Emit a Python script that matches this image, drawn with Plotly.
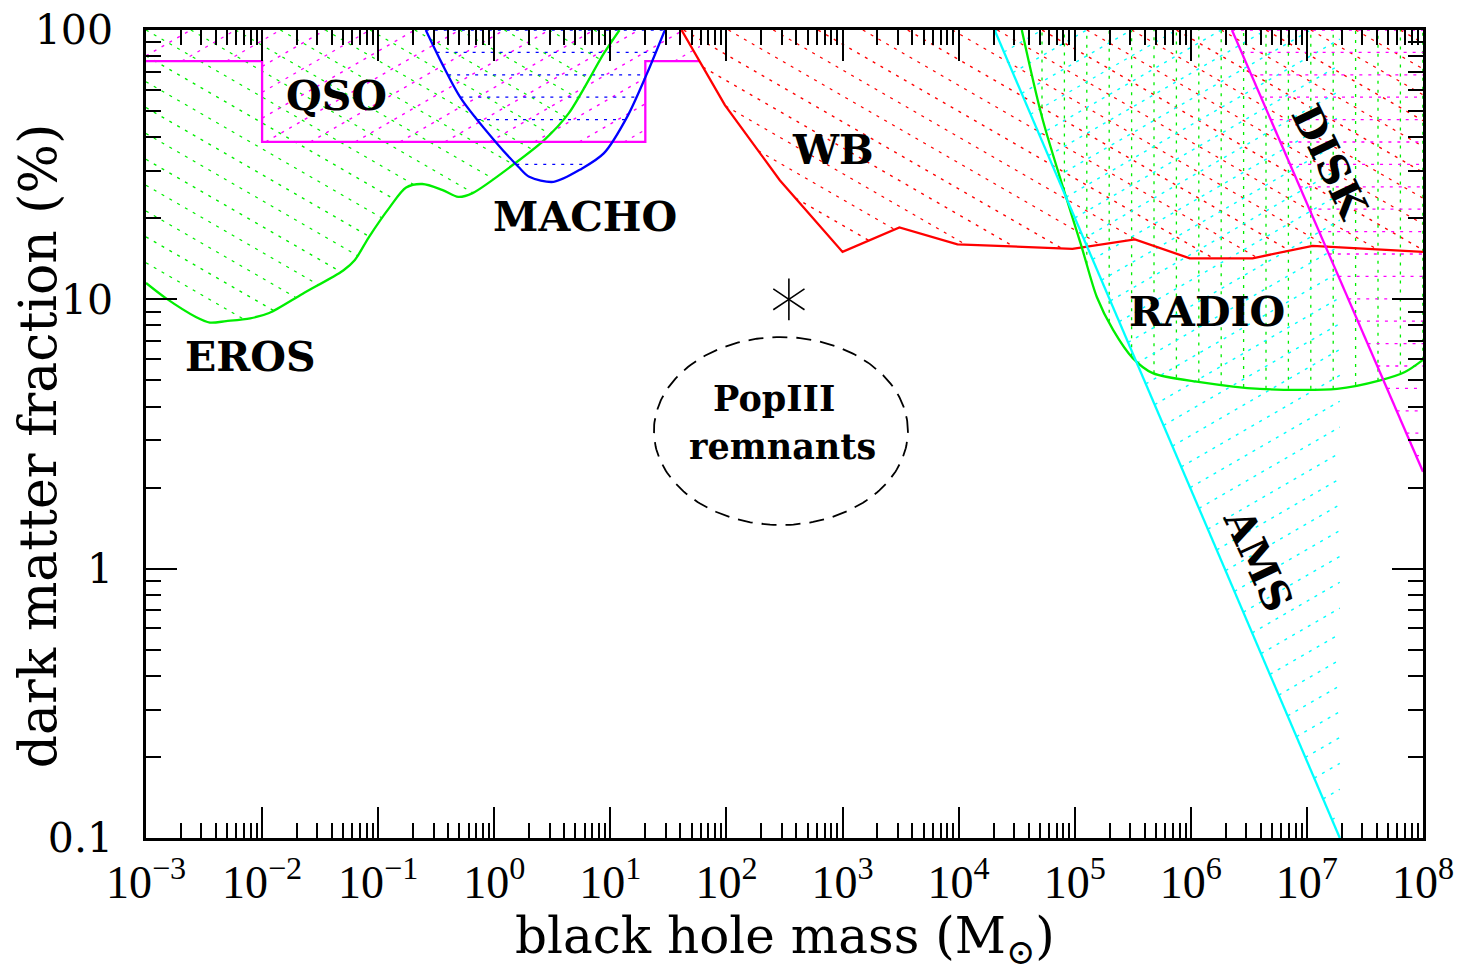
import numpy as np
import plotly.graph_objects as go

# ---------------- data (mass in M_sun, fraction in %) ----------------
EROS_M = [1.0e-3, 1.48e-3, 2.69e-3, 3.55e-3, 4.9e-3, 7.9e-3, 1.15e-2, 2.24e-2, 5.0e-2, 6.3e-2,
          8.3e-2, 0.126, 0.174, 0.24, 0.355, 0.49, 0.65, 1.51, 2.69, 4.37, 8.81, 12.0]
EROS_F = [11.5, 10.1, 8.6, 8.2, 8.3, 8.5, 8.9, 10.5, 12.8, 14.0,
          17.0, 22.0, 26.0, 26.8, 25.5, 24.0, 24.8, 32.0, 39.0, 49.0, 82.0, 100.0]

MACHO_M = [0.257, 0.355, 0.513, 1.05, 1.62, 2.0, 3.24, 5.62, 8.81, 14.1, 20.7, 29.5]
MACHO_F = [100.0, 75.0, 56.0, 38.0, 31.0, 28.5, 27.3, 30.5, 34.9, 48.0, 69.0, 100.0]

QSO_M = [1.0e-3, 1.0e-2, 1.0e-2, 20.0, 20.0, 59.0]
QSO_F = [76.7, 76.7, 38.4, 38.4, 76.7, 76.7]

WB_M = [41.0, 97.0, 288.0, 1000.0, 3090.0, 9770.0, 9.55e4, 3.3e5, 9.8e5, 3.4e6, 1.12e7, 1.0e8]
WB_F = [100.0, 52.6, 27.7, 15.0, 18.5, 16.0, 15.4, 16.7, 14.2, 14.2, 15.8, 15.0]

RADIO_M = [3.5e4, 5.3e4, 1.15e5, 1.55e5, 2.14e5, 3.16e5, 4.7e5, 1.2e6, 3.94e6, 1.82e7, 4.27e7, 6.98e7, 1.0e8]
RADIO_F = [100.0, 46.4, 15.6, 10.2, 7.7, 6.05, 5.32, 4.93, 4.65, 4.65, 5.0, 5.37, 5.96]

AMS_M = [2.04e4, 1.92e7]
AMS_F = [100.0, 0.1]

DISK_M = [2.26e6, 1.0e8]
DISK_F = [100.0, 2.29]

STAR_M = [345.0]
STAR_F = [10.0]

X_TICKS = [1e-3, 1e-2, 1e-1, 1e0, 1e1, 1e2, 1e3, 1e4, 1e5, 1e6, 1e7, 1e8]
X_TICKTEXT = ["10<sup>−3</sup>", "10<sup>−2</sup>", "10<sup>−1</sup>", "10<sup>0</sup>",
              "10<sup>1</sup>", "10<sup>2</sup>", "10<sup>3</sup>", "10<sup>4</sup>",
              "10<sup>5</sup>", "10<sup>6</sup>", "10<sup>7</sup>", "10<sup>8</sup>"]
Y_TICKS = [0.1, 1, 10, 100]
Y_TICKTEXT = ["0.1", "1", "10", "100"]

# ---------------- layout / style constants ----------------
W, H = 1467, 968
PAGE_OFFSET = 8                     # default body margin of the html page
PLOT_W, PLOT_H = 1277, 808
ML = 146 - PAGE_OFFSET
MT = 30 - PAGE_OFFSET
MR = W - ML - PLOT_W
MB = H - MT - PLOT_H
XR = (-3.0, 8.0)
YR = (-1.0, 2.0)
PXX = PLOT_W / (XR[1] - XR[0])   # px per decade (x)
PXY = PLOT_H / (YR[1] - YR[0])   # px per decade (y)
SP = 22.4                        # hatch spacing in px

GREEN = "#00ee00"
BLUE = "#0000ff"
RED = "#ff0000"
MAGENTA = "#ff00ff"
CYAN = "#00ffff"
HATCH_DASH = "3px,6px"


def hatch(m, f, angle):
    """Hatch lines filling the area above a boundary curve (up to the top axis)."""
    lm = np.log10(np.asarray(m, float))
    lf = np.log10(np.asarray(f, float))
    lo, hi = lm[0], lm[-1]

    def inside(u, v):
        return (u >= lo) & (u <= hi) & (v >= np.interp(u, lm, lf)) & (v <= YR[1])

    xs, ys = [], []

    def add_runs(u, v, mask):
        d = np.diff(np.concatenate(([0], mask.astype(int), [0])))
        starts = np.flatnonzero(d == 1)
        ends = np.flatnonzero(d == -1) - 1
        for s, e in zip(starts, ends):
            if e <= s:
                continue
            xs.extend([10 ** u[s], 10 ** u[e], None])
            ys.extend([10 ** v[s], 10 ** v[e], None])

    if angle == 90:
        du = SP / PXX
        v = np.linspace(YR[0], YR[1], 3000)
        k0 = int(np.ceil((lo - XR[0]) / du))
        k1 = int(np.floor((hi - XR[0]) / du))
        for k in range(k0, k1 + 1):
            u = np.full_like(v, XR[0] + k * du)
            add_runs(u, v, inside(u, v))
    else:
        a = np.radians(angle)
        s = np.tan(a) * PXX / PXY
        dv = SP / np.cos(a) / PXY
        u = np.linspace(lo, hi, 4000)
        span = s * (XR[1] - XR[0])
        bmin = YR[0] - max(span, 0) - dv
        bmax = YR[1] - min(span, 0) + dv
        n_up = int(np.ceil((bmax - YR[1]) / dv))
        n_dn = int(np.ceil((YR[1] - bmin) / dv))
        for k in range(-n_up, n_dn + 1):
            b = YR[1] - k * dv
            v = s * (u - XR[0]) + b
            add_runs(u, v, inside(u, v))
    return xs, ys


fig = go.Figure()

# hatching
hatch_specs = [
    (EROS_M, EROS_F, -30, GREEN),
    (QSO_M, QSO_F, 30, MAGENTA),
    (MACHO_M, MACHO_F, 0, BLUE),
    (WB_M, WB_F, -30, RED),
    (RADIO_M, RADIO_F, 90, GREEN),
    (AMS_M, AMS_F, 30, CYAN),
    (DISK_M, DISK_F, 0, MAGENTA),
]
for m, f, ang, col in hatch_specs:
    hx, hy = hatch(m, f, ang)
    fig.add_trace(go.Scatter(x=hx, y=hy, mode="lines", hoverinfo="skip", showlegend=False,
                             line=dict(color=col, width=1.3, dash=HATCH_DASH)))

# boundary curves
for m, f, col, shape in [(EROS_M, EROS_F, GREEN, "spline"), (QSO_M, QSO_F, MAGENTA, "linear"),
                         (MACHO_M, MACHO_F, BLUE, "spline"), (WB_M, WB_F, RED, "linear"),
                         (RADIO_M, RADIO_F, GREEN, "spline"), (AMS_M, AMS_F, CYAN, "linear"),
                         (DISK_M, DISK_F, MAGENTA, "linear")]:
    fig.add_trace(go.Scatter(x=m, y=f, mode="lines", showlegend=False,
                             line=dict(color=col, width=2.3, shape=shape, smoothing=0.8)))

# PopIII remnants: star + dashed ellipse
for sym in ["y-up-open", "y-down-open"]:
    fig.add_trace(go.Scatter(x=STAR_M, y=STAR_F, mode="markers", showlegend=False,
                             marker=dict(symbol=sym, size=26, color="black",
                                         line=dict(color="black", width=1.6))))
ELL_C = (2.469, 0.511)
ELL_R = (1.094, 0.349)
t = np.linspace(0, 2 * np.pi, 240)
fig.add_trace(go.Scatter(x=10 ** (ELL_C[0] + ELL_R[0] * np.cos(t)),
                         y=10 ** (ELL_C[1] + ELL_R[1] * np.sin(t)),
                         mode="lines", showlegend=False,
                         line=dict(color="black", width=1.8, dash="15px,9px")))

LABEL_FONT = dict(family="DejaVu Serif", size=41, color="black")
labels = [
    ("QSO", -1.355, 1.755, 0),
    ("MACHO", 0.781, 1.306, 0),
    ("WB", 2.917, 1.554, 0),
    ("EROS", -2.104, 0.786, 0),
    ("RADIO", 6.139, 0.953, 0),
    ("DISK", 7.198, 1.51, 64),
    ("AMS", 6.578, 0.032, 65),
]
for txt, lx, ly, ang in labels:
    fig.add_annotation(x=lx, y=ly, xref="x", yref="y", text="<b>" + txt + "</b>",
                       showarrow=False, textangle=ang, font=LABEL_FONT)
fig.add_annotation(x=2.409, y=0.633, xref="x", yref="y", text="<b>PopIII</b>", showarrow=False,
                   font=dict(family="DejaVu Serif", size=35, color="black"))
fig.add_annotation(x=2.487, y=0.455, xref="x", yref="y", text="<b>remnants</b>", showarrow=False,
                   font=dict(family="DejaVu Serif", size=35, color="black"))

fig.add_annotation(x=0.5004, y=-0.126, xref="paper", yref="paper", showarrow=False,
                   text="black hole mass (M<sub>⊙</sub>)",
                   font=dict(family="DejaVu Serif", size=50, color="black"),
                   xanchor="center", yanchor="middle")
fig.add_annotation(x=-0.0846, y=0.486, xref="paper", yref="paper", showarrow=False,
                   text="dark matter fraction (%)",
                   font=dict(family="DejaVu Serif", size=52, color="black"), textangle=-90,
                   xanchor="center", yanchor="middle")

axis_common = dict(type="log", showgrid=False, zeroline=False, showline=True, linecolor="black",
                   linewidth=2.5, mirror="allticks", ticks="inside", ticklen=31, tickwidth=2,
                   tickcolor="black", automargin=False, ticklabeloverflow="allow",
                   minor=dict(ticks="inside", ticklen=15, tickwidth=2, tickcolor="black",
                              dtick="D1", showgrid=False))
fig.update_xaxes(range=list(XR), tickvals=X_TICKS, ticktext=X_TICKTEXT,
                 tickfont=dict(family="Liberation Serif", size=46, color="black"),
                 ticklabelstandoff=2, **axis_common)
fig.update_yaxes(range=list(YR), tickvals=Y_TICKS, ticktext=Y_TICKTEXT,
                 tickfont=dict(family="DejaVu Serif", size=41, color="black"),
                 ticklabelstandoff=22, **axis_common)

fig.update_layout(width=W, height=H, autosize=False,
                  margin=dict(l=ML, r=MR, t=MT, b=MB, pad=0, autoexpand=False),
                  paper_bgcolor="white", plot_bgcolor="white", showlegend=False)

fig.write_html("out.html")
